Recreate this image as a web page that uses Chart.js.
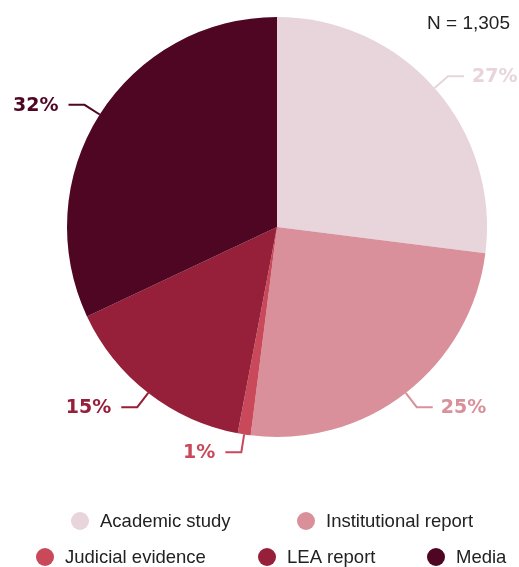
<!DOCTYPE html>
<html>
<head>
<meta charset="utf-8">
<script src="https://cdn.jsdelivr.net/npm/chart.js@4/dist/chart.umd.min.js"></script>
<style>
  html, body { margin: 0; padding: 0; background: #fff; }
  #wrap { width: 519px; height: 567px; position: relative; }
</style>
</head>
<body>
<div id="wrap"><canvas id="chPie"></canvas></div>
<script>
// data
var categories = ["Academic study", "Institutional report", "Judicial evidence", "LEA report", "Media"];
var shares = [27, 25, 1, 15, 32];
var totalN = "N = 1,305";

// slice colors
var colors = ["#e8d4db", "#d9909a", "#c9495a", "#961f39", "#4e0622"];

// legend layout: rows of item indexes, circle x positions
var legendRows = [[0, 1], [2, 3, 4]];
var legendX = [[80, 306], [45, 267, 436]];
var legendY = [521, 557];

var labelFont = "bold 19px 'DejaVu Sans', sans-serif";
var legendFont = "18.5px 'Liberation Sans', Arial, sans-serif";

// leader lines + percentage labels
var outLabels = {
  id: "outLabels",
  afterDatasetsDraw: function (chart) {
    var ctx = chart.ctx;
    var meta = chart.getDatasetMeta(0);
    ctx.save();
    meta.data.forEach(function (arc, i) {
      var mid = (arc.startAngle + arc.endAngle) / 2;
      var r = arc.outerRadius;
      var x0 = arc.x + Math.cos(mid) * r;
      var y0 = arc.y + Math.sin(mid) * r;
      var x1 = arc.x + Math.cos(mid) * (r + 18);
      var y1 = arc.y + Math.sin(mid) * (r + 18);
      var right = Math.cos(mid) >= 0;
      var x2 = x1 + (right ? 16 : -16);
      ctx.strokeStyle = colors[i];
      ctx.lineWidth = 2;
      ctx.beginPath();
      ctx.moveTo(x0, y0);
      ctx.lineTo(x1, y1);
      ctx.lineTo(x2, y1);
      ctx.stroke();
      ctx.fillStyle = colors[i];
      ctx.font = labelFont;
      ctx.textBaseline = "middle";
      ctx.textAlign = right ? "left" : "right";
      ctx.fillText(shares[i] + "%", x2 + (right ? 8 : -10), y1 + 1);
    });

    // N note
    ctx.fillStyle = "#222";
    ctx.font = "19px 'Liberation Sans', Arial, sans-serif";
    ctx.textAlign = "right";
    ctx.textBaseline = "middle";
    ctx.fillText(totalN, 510, 24);

    // legend
    ctx.font = legendFont;
    ctx.textAlign = "left";
    legendRows.forEach(function (row, ri) {
      row.forEach(function (idx, k) {
        var cx = legendX[ri][k];
        var cy = legendY[ri];
        ctx.fillStyle = colors[idx];
        ctx.beginPath();
        ctx.arc(cx, cy, 9, 0, Math.PI * 2);
        ctx.fill();
        ctx.fillStyle = "#222";
        ctx.fillText(categories[idx], cx + 20, cy + 1);
      });
    });
    ctx.restore();
  }
};

new Chart(document.getElementById("chPie"), {
  type: "pie",
  data: {
    labels: categories,
    datasets: [
      {
        data: shares,
        backgroundColor: colors,
        borderWidth: 0
      }
    ]
  },
  options: {
    responsive: true,
    maintainAspectRatio: false,
    animation: false,
    layout: { padding: { left: 67, right: 32, top: 17, bottom: 130 } },
    plugins: {
      legend: { display: false },
      tooltip: { enabled: false }
    }
  },
  plugins: [outLabels]
});
</script>
</body>
</html>
